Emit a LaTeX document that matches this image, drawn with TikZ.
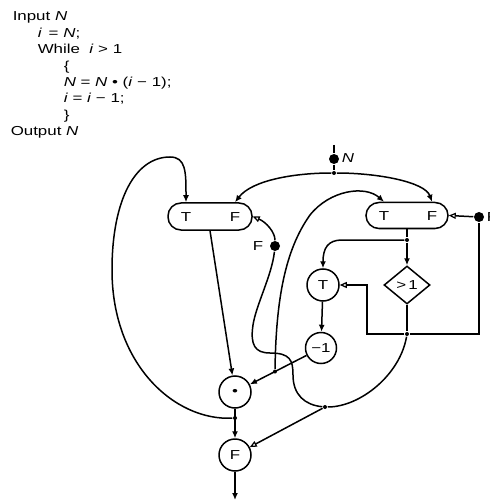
\documentclass[tikz,border=0pt]{standalone}
\usepackage{fontspec}
\setmainfont{Liberation Sans}[FakeStretch=1.3]
\usetikzlibrary{arrows.meta,shapes.geometric,calc}
\begin{document}
\begin{tikzpicture}[x=1pt,y=-1pt, line width=1.5pt,
 txt/.style={font=\fontsize{13}{15}\selectfont, inner sep=0pt},
 code/.style={txt, anchor=base west},
 pill/.style={draw, rounded corners=13pt, minimum width=84pt, minimum height=27pt, inner sep=0pt},
 circ/.style={draw, circle, minimum size=32pt, inner sep=0pt, txt},
 diam/.style={draw, diamond, minimum width=46pt, minimum height=38pt, inner sep=0pt, txt},
 jdot/.style={circle, fill, inner sep=0pt, minimum size=4pt},
 bdot/.style={circle, fill, inner sep=0pt, minimum size=10pt},
 arr/.style={-{Latex[length=7pt,width=6pt]}},
 harr/.style={-{Triangle[open,length=7pt,width=6pt,line width=1.2pt]}}
]
\useasboundingbox (0,0) rectangle (489,502);
% program text
\node[code] (c1) at (12,21) {Input \textit{N}};
\node[code] (c2) at (37,37.4) {\textit{i}\, = \textit{N};};
\node[code] (c3) at (37,53.8) {While\ \ \textit{i} > 1};
\node[code] (c4) at (63,70.2) {\{};
\node[code] (c5) at (63,86.6) {\textit{N} = \textit{N} • (\textit{i} − 1);};
\node[code] (c6) at (63,103) {\textit{i} = \textit{i} − 1;};
\node[code] (c7) at (63,119.4) {\}};
\node[code] (c8) at (10,135.8) {Output \textit{N}};
% nodes
\node[pill] (lpill) at (210,216.5) {};
\node[txt] (lT) at (186,217) {T};
\node[txt] (lF) at (235,217) {F};
\node[pill, minimum width=82pt, minimum height=26pt] (rpill) at (407,215.5) {};
\node[txt] (rT) at (384,216) {T};
\node[txt] (rF) at (432,216) {F};
\node[circ] (Tc) at (323,285) {T};
\node[diam] (dia) at (407,285) {>\,1};
\node[circ, minimum size=31pt] (m1) at (321,348) {−1};
\node[circ] (star) at (235,392) {•};
\node[circ] (Fc) at (235,455) {F};
% junctions and sources
\coordinate (Nstart) at (334,145);
\node[bdot] (Ndot) at (334,159) {};
\node[txt, anchor=west] (Nlab) at (341,158) {\textit{N}};
\node[jdot] (jN) at (334,173) {};
\node[jdot] (jR) at (407,240) {};
\node[jdot] (jD) at (407,334) {};
\coordinate (kT) at (367,334);
\node[jdot] (jM) at ($(m1)!0.535!(star)$) {};
\node[jdot] (jC) at (325,407) {};
\node[jdot] (jS) at (235,418) {};
\node[bdot] (Fdot) at (275,246) {};
\node[txt] (FdotLab) at (258,246) {F};
\node[bdot] (RFdot) at (479,217) {};
\node[txt, anchor=west] (RFlab) at (486,217) {F};
\coordinate (Out) at (235,500);
% connectors
\draw (Nstart) -- (Ndot) -- (jN);
\draw[arr] (jN) .. controls (295,173) and (252,180) .. (lF |- lpill.north);
\draw[arr] (jN) .. controls (378,173) and (425,182) .. (rF |- rpill.north);
\draw[arr] (jM) .. controls (276,300) and (285,250) .. (310,215) .. controls (330,190) and (365,185) .. (rT |- rpill.north);
\draw[arr] (jS) .. controls (175,421) and (112,365) .. (112,270) .. controls (112,200) and (135,157) .. (170,157) .. controls (186,157) and (186,172) .. (lT |- lpill.north);
\draw[arr] (lpill.south) -- (star);
\draw (rpill.south) -- (jR);
\draw[arr] (jR) -- (dia.north);
\draw[arr] (jR) -- (342,240) .. controls (328,240) and (323,248) .. (Tc.north);
\draw[arr] (Tc) -- (m1);
\draw (dia.south) -- (jD);
\draw (jD) -| (RFdot);
\draw[harr] (RFdot) -- (rpill.east);
\draw[harr] (jD) -- (kT) |- (Tc.east);
\draw (jD) .. controls (400,375) and (360,407) .. (jC);
\draw[harr] (jC) -- (Fc);
\draw (jC) .. controls (305,405) and (293,395) .. (293,375) .. controls (293,360) and (290,353) .. (270,353) .. controls (255,353) and (250,345) .. (253,325) .. controls (256,305) and (272,275) .. (Fdot);
\draw[harr] (Fdot) .. controls (275,232) and (266,222) .. (lpill.east);
\draw[arr] (m1) -- (star);
\draw[arr] (star) -- (Fc);
\draw[arr] (Fc) -- (Out);
\end{tikzpicture}
\end{document}
